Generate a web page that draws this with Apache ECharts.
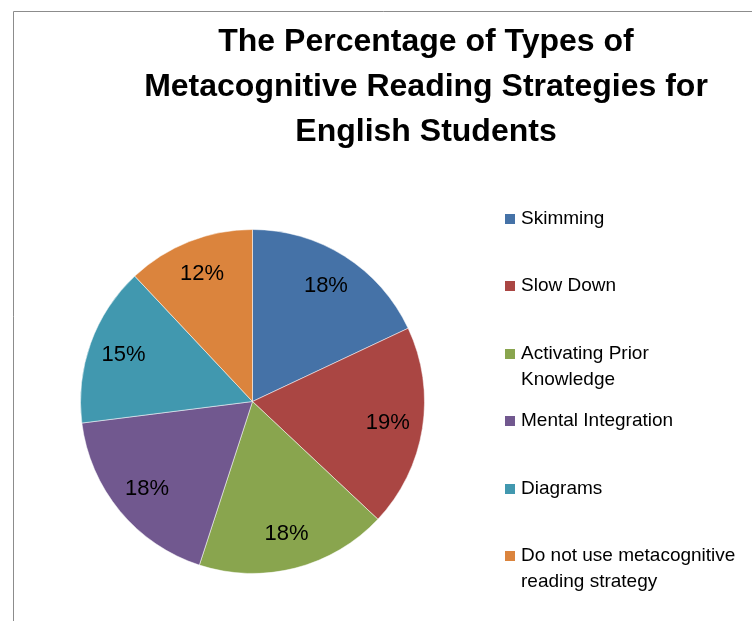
<!DOCTYPE html>
<html>
<head>
<meta charset="utf-8">
<script src="https://cdn.jsdelivr.net/npm/echarts@6/dist/echarts.min.js"></script>
<style>
  html, body { margin: 0; padding: 0; background: #fff; }
  #chart { width: 752px; height: 621px; }
</style>
</head>
<body>
<div id="chart"></div>
<script>
const categories = ['Skimming', 'Slow Down', 'Activating Prior\nKnowledge', 'Mental Integration', 'Diagrams', 'Do not use metacognitive\nreading strategy']
const values = [18, 19, 18, 18, 15, 12]
const colors = ['#4572A7', '#AA4643', '#89A54E', '#71588F', '#4198AF', '#DB843D']
const legendY = [219, 286, 354, 421, 489, 556] // icon centres

const font = "'Liberation Sans', Arial, sans-serif"
const data = categories.map((c, i) => ({ name: c, value: values[i] }))

const chart = echarts.init(document.getElementById('chart'))

// one legend per entry so the icons keep an even spacing;
// wrapped names get a blank first line so the icon sits on their first line
const legends = categories.map((c, i) => {
  const twoLine = c.includes('\n')
  return {
    orient: 'vertical',
    left: 503,
    top: twoLine ? legendY[i] - 39 : legendY[i] - 13,
    padding: 0,
    itemWidth: 12,
    itemHeight: 12,
    icon: 'rect',
    selectedMode: false,
    data: [c],
    formatter: name => (name.includes('\n') ? ' \n' + name : name),
    textStyle: { fontFamily: font, fontSize: 19, lineHeight: 26, color: '#000' }
  }
})

chart.setOption({
  color: colors,
  animation: false,
  title: {
    text: 'The Percentage of Types of\nMetacognitive Reading Strategies for\nEnglish Students',
    left: 426,
    top: 20,
    padding: 0,
    textAlign: 'center',
    textStyle: { fontFamily: font, fontSize: 32, fontWeight: 'bold', lineHeight: 45, color: '#000' }
  },
  graphic: [{
    type: 'rect',
    shape: { x: 13.5, y: 11.5, width: 900, height: 800 },
    style: { fill: null, stroke: '#8c8c8c', lineWidth: 1 },
    silent: true
  }],
  legend: legends,
  series: [
    {
      type: 'pie',
      center: [252.5, 401.5],
      radius: [0, 172],
      startAngle: 90,
      data: data,
      label: { show: false },
      labelLine: { show: false },
      itemStyle: { borderColor: '#fff', borderWidth: 0.5 },
      emphasis: { disabled: true }
    },
    {
      // transparent ring only used to place the percentage labels
      type: 'pie',
      center: [252.5, 401.5],
      radius: [96, 172],
      startAngle: 90,
      silent: true,
      data: data,
      itemStyle: { color: 'rgba(0,0,0,0)' },
      label: {
        show: true,
        position: 'inside',
        formatter: '{c}%',
        fontFamily: font,
        fontSize: 22,
        color: '#000'
      },
      labelLine: { show: false },
      emphasis: { disabled: true }
    }
  ]
})
</script>
</body>
</html>
